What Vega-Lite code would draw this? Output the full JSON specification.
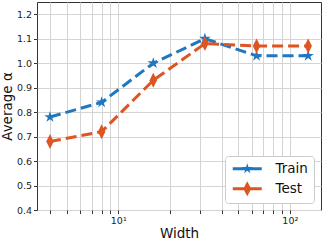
{
  "$schema": "https://vega.github.io/schema/vega-lite/v6.json",
  "width": 284,
  "height": 208,
  "autosize": {"type": "none"},
  "padding": {"left": 37, "top": 2, "right": 3, "bottom": 31},
  "background": "white",
  "config": {
    "view": {"stroke": "#333333", "strokeWidth": 1},
    "font": "DejaVu Sans",
    "axis": {
      "labelFont": "DejaVu Sans",
      "titleFont": "DejaVu Sans",
      "labelFontSize": 9.5,
      "titleFontSize": 13.5,
      "titleFontWeight": "normal",
      "labelColor": "#222222",
      "titleColor": "#111111",
      "tickColor": "#333333",
      "domain": false,
      "gridColor": "#d4d4d4",
      "gridWidth": 1,
      "tickSize": 3.5,
      "labelPadding": 2
    },
    "legend": {
      "title": null,
      "orient": "bottom-right",
      "offset": 7,
      "fillColor": "white",
      "strokeColor": "#cccccc",
      "cornerRadius": 3,
      "padding": 6,
      "rowPadding": 5,
      "symbolSize": 100,
      "labelOffset": 31,
      "labelFont": "DejaVu Sans",
      "labelFontSize": 13.5,
      "labelColor": "#111111",
      "symbolStrokeWidth": 0
    }
  },
  "data": {
    "values": [
      {"width": 4, "alpha": 0.78, "series": "Train"},
      {"width": 8, "alpha": 0.84, "series": "Train"},
      {"width": 16, "alpha": 1.0, "series": "Train"},
      {"width": 32, "alpha": 1.1, "series": "Train"},
      {"width": 64, "alpha": 1.03, "series": "Train"},
      {"width": 128, "alpha": 1.03, "series": "Train"},
      {"width": 4, "alpha": 0.68, "series": "Test"},
      {"width": 8, "alpha": 0.72, "series": "Test"},
      {"width": 16, "alpha": 0.93, "series": "Test"},
      {"width": 32, "alpha": 1.08, "series": "Test"},
      {"width": 64, "alpha": 1.07, "series": "Test"},
      {"width": 128, "alpha": 1.07, "series": "Test"}
    ]
  },
  "encoding": {
    "x": {
      "field": "width",
      "type": "quantitative",
      "scale": {"type": "log", "domain": [3.36, 152], "nice": false},
      "axis": {
        "title": "Width",
        "titlePadding": 1,
        "values": [4, 5, 6, 7, 8, 9, 10, 20, 30, 40, 50, 60, 70, 80, 90, 100],
        "labelExpr": "datum.value == 10 ? '10¹' : (datum.value == 100 ? '10²' : '')",
        "labelOverlap": false,
        "labelFlush": false
      }
    },
    "y": {
      "field": "alpha",
      "type": "quantitative",
      "scale": {"domain": [0.4, 1.25], "nice": false, "zero": false},
      "axis": {
        "title": "Average α",
        "titlePadding": 2,
        "values": [0.4, 0.5, 0.6, 0.7, 0.8, 0.9, 1.0, 1.1, 1.2],
        "format": ".1f"
      }
    },
    "color": {
      "field": "series",
      "type": "nominal",
      "scale": {"domain": ["Train", "Test"], "range": ["#1f77c0", "#dd5522"]},
      "legend": {
        "encode": {
          "symbols": {
            "update": {
              "shape": {"signal": "datum.value === 'Train' ? 'M-1,-0.3H4.8V0.3H-1Z M1.9,-1.1L2.145,-0.338L2.946,-0.34L2.297,0.129L2.547,0.89L1.9,0.418L1.253,0.89L1.503,0.129L0.854,-0.34L1.655,-0.338Z' : 'M-1,-0.3H4.8V0.3H-1Z M1.9,-1.5L2.7,0L1.9,1.5L1.1,0Z'"},
              "fill": {"signal": "datum.value === 'Train' ? '#1f77c0' : '#dd5522'"},
              "opacity": {"value": 1}
            }
          }
        }
      }
    }
  },
  "layer": [
    {
      "mark": {"type": "line", "strokeWidth": 3, "strokeDash": [11, 5]}
    },
    {
      "transform": [{"filter": "datum.series === 'Train'"}],
      "mark": {"type": "point", "filled": true, "opacity": 1, "size": 144,
        "shape": "M0,-1L0.223,-0.307L0.951,-0.309L0.361,0.117L0.588,0.809L0,0.38L-0.588,0.809L-0.361,0.117L-0.951,-0.309L-0.223,-0.307Z"}
    },
    {
      "transform": [{"filter": "datum.series === 'Test'"}],
      "mark": {"type": "point", "filled": true, "opacity": 1, "size": 144,
        "shape": "M0,-1.25L0.62,0L0,1.25L-0.62,0Z"}
    }
  ]
}
